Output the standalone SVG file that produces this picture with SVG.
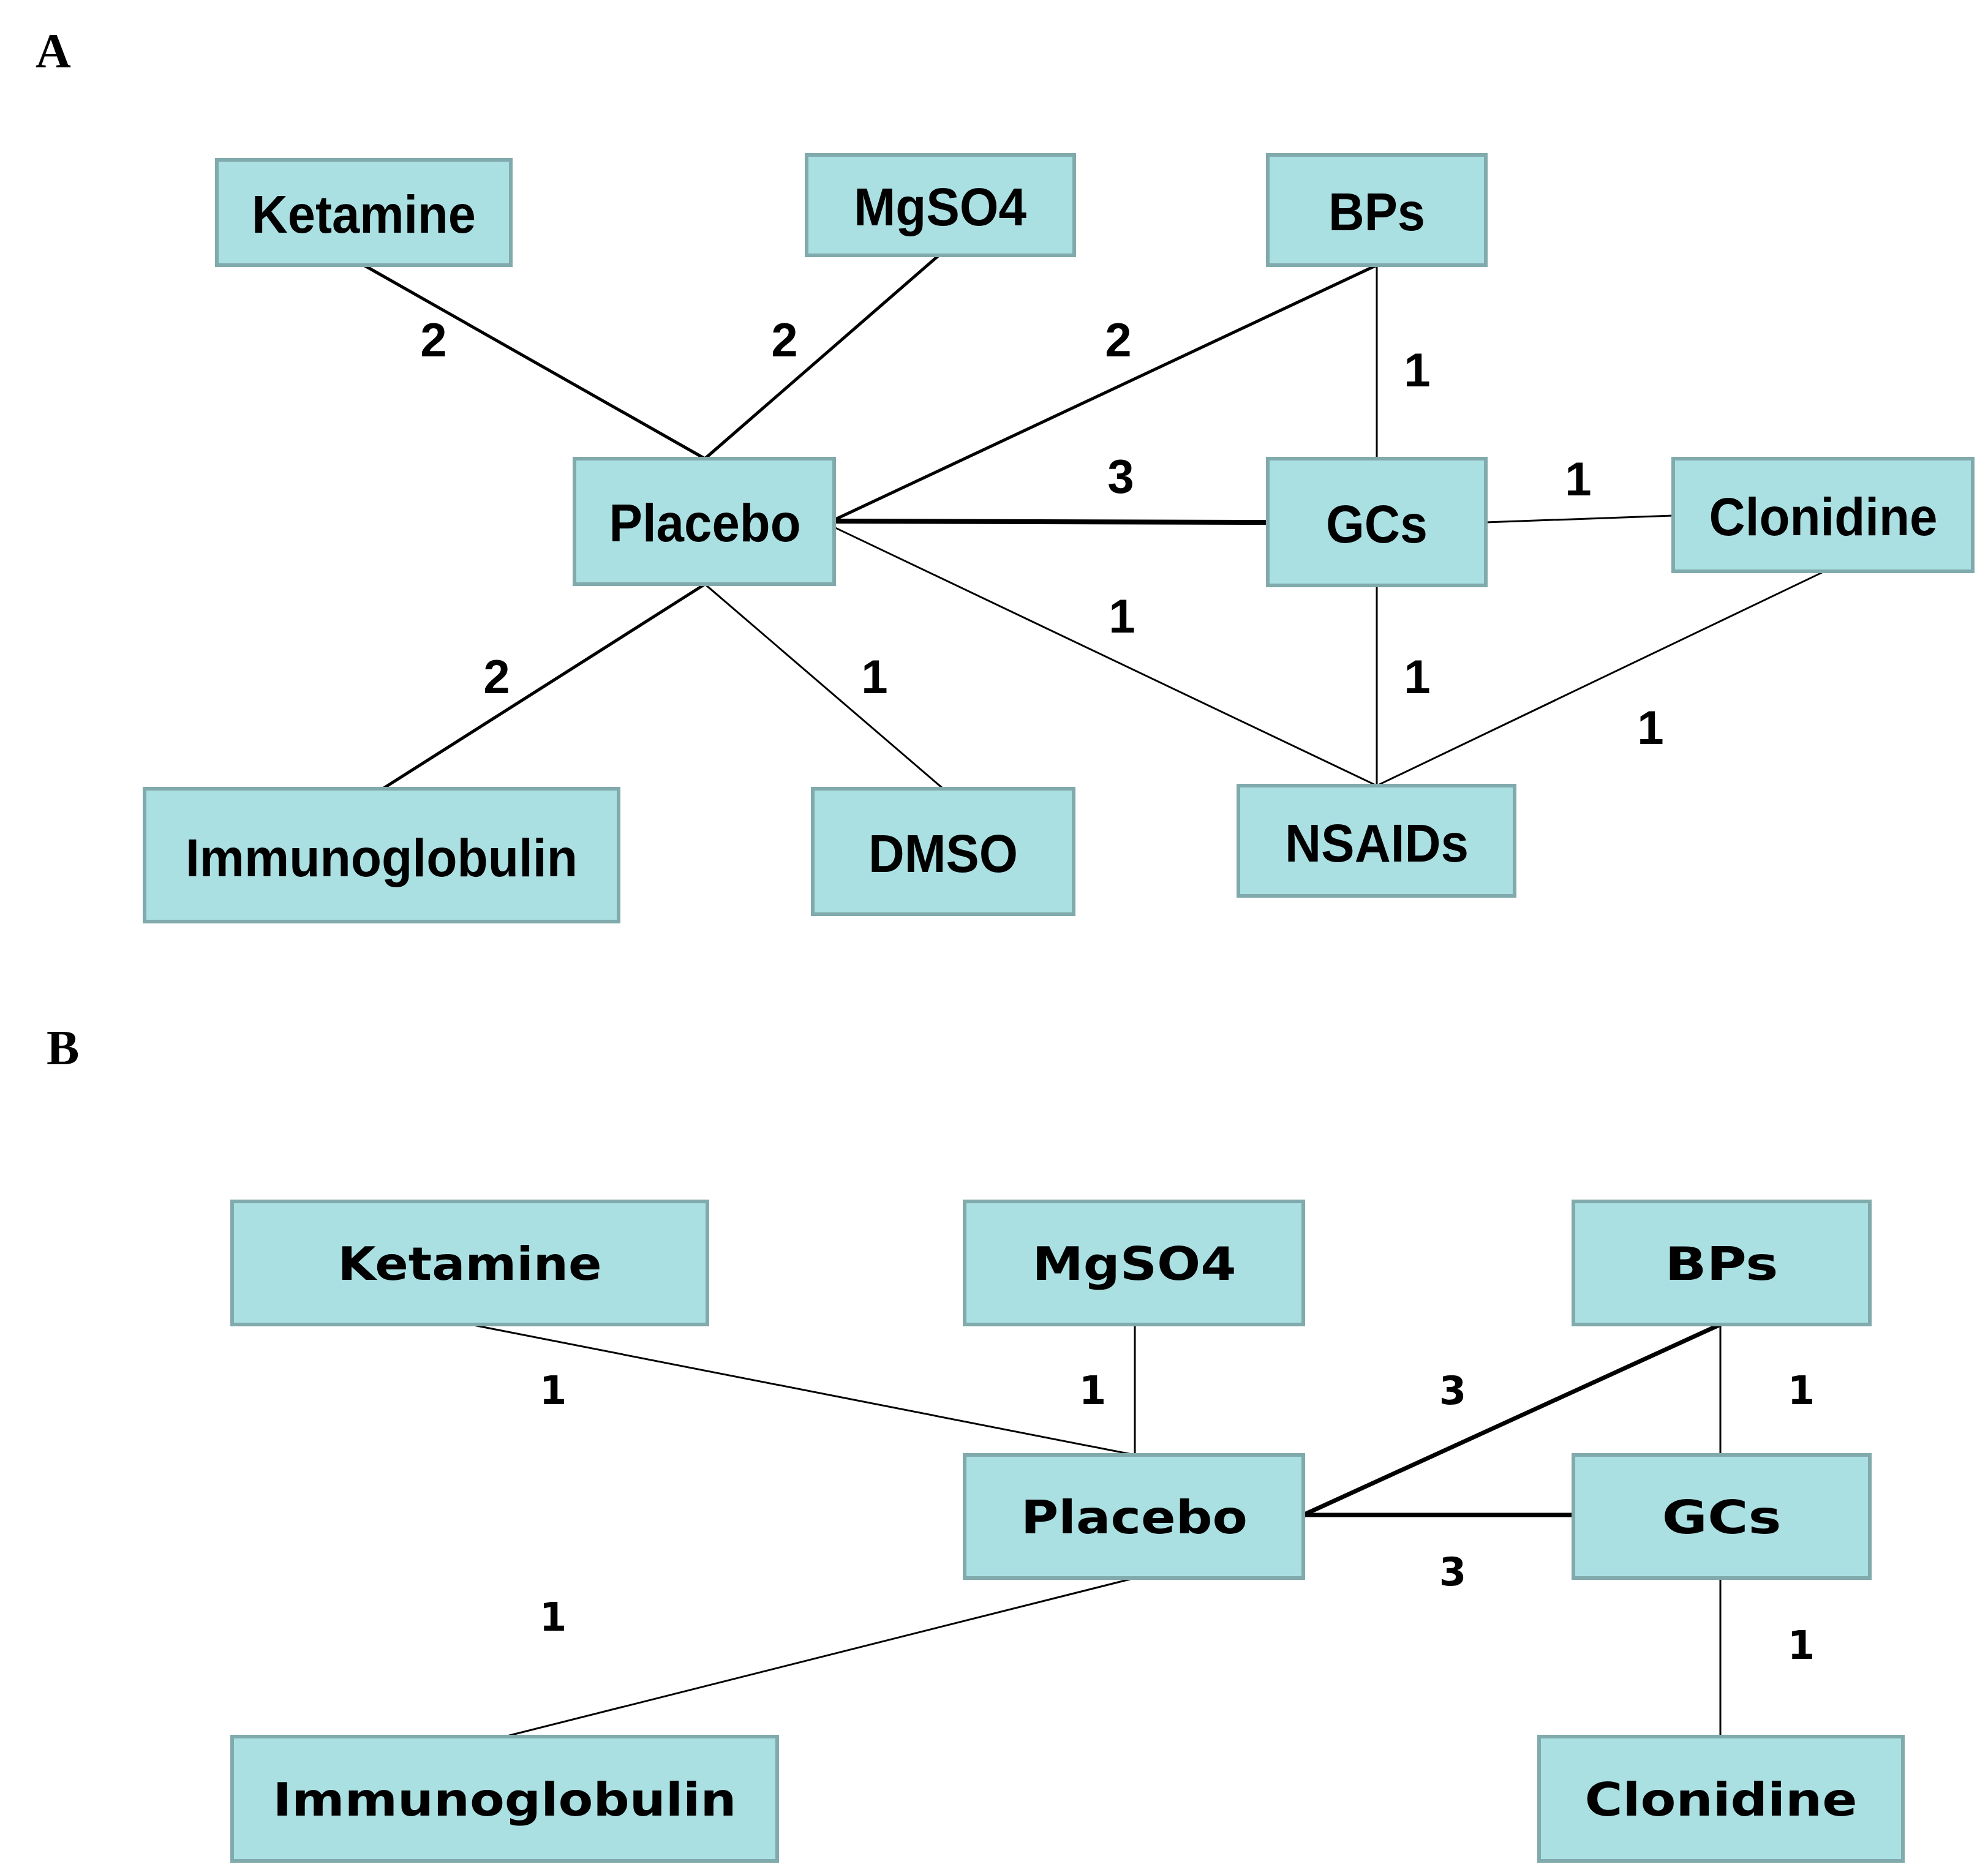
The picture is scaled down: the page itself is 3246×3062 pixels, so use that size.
<svg xmlns="http://www.w3.org/2000/svg" width="3246" height="3062" viewBox="0 0 3246 3062">
<style>
rect{fill:#ABE0E3;stroke:#80AAAC;stroke-width:6}
.a{font-family:"Liberation Sans",Arial,sans-serif;font-weight:bold;font-size:88px;text-anchor:middle;dominant-baseline:central}
.b{font-family:"DejaVu Sans",sans-serif;font-weight:bold;font-size:74px;text-anchor:middle;dominant-baseline:central}
.na{font-family:"Liberation Sans",Arial,sans-serif;font-weight:bold;font-size:78px;text-anchor:middle;dominant-baseline:central}
.nb{font-family:"DejaVu Sans",sans-serif;font-weight:bold;font-size:64px;text-anchor:middle;dominant-baseline:central}
.p{font-family:"Liberation Serif",serif;font-weight:bold;font-size:80px}
line{stroke:#000;stroke-linecap:round}
</style>
<rect x="0" y="0" width="3246" height="3062" style="fill:#fff;stroke:none"/>
<text class="p" x="58" y="110">A</text>
<text class="p" x="76" y="1738">B</text>
<g id="connectors">
<line x1="594" y1="433" x2="1151" y2="749" stroke-width="5"/>
<line x1="1534" y1="416" x2="1151" y2="749" stroke-width="5"/>
<line x1="1362" y1="849" x2="2248" y2="433" stroke-width="5"/>
<line x1="1362" y1="851" x2="2070" y2="853" stroke-width="8"/>
<line x1="2248" y1="433" x2="2248" y2="749" stroke-width="3"/>
<line x1="2426" y1="853" x2="2732" y2="842" stroke-width="3"/>
<line x1="1362" y1="861" x2="2248" y2="1283" stroke-width="3"/>
<line x1="2248" y1="956" x2="2248" y2="1283" stroke-width="3"/>
<line x1="2977" y1="934" x2="2248" y2="1283" stroke-width="3"/>
<line x1="1151" y1="954" x2="625" y2="1288" stroke-width="5"/>
<line x1="1151" y1="954" x2="1540" y2="1288" stroke-width="3"/>
<line x1="768" y1="2163" x2="1853" y2="2376" stroke-width="3"/>
<line x1="1853" y1="2163" x2="1853" y2="2376" stroke-width="3"/>
<line x1="2809" y1="2163" x2="2128" y2="2474" stroke-width="7"/>
<line x1="2128" y1="2474" x2="2569" y2="2474" stroke-width="7"/>
<line x1="2809" y1="2163" x2="2809" y2="2376" stroke-width="3"/>
<line x1="2809" y1="2577" x2="2809" y2="2836" stroke-width="3"/>
<line x1="1853" y1="2577" x2="824" y2="2836" stroke-width="3"/>
<text class="na" x="708" y="555">2</text>
<text class="na" x="1281" y="555">2</text>
<text class="na" x="1826" y="555">2</text>
<text class="na" x="2314" y="604">1</text>
<text class="na" x="1830" y="778">3</text>
<text class="na" x="2577" y="782">1</text>
<text class="na" x="1832" y="1006">1</text>
<text class="na" x="2314" y="1105">1</text>
<text class="na" x="2695" y="1188">1</text>
<text class="na" x="811" y="1105">2</text>
<text class="na" x="1428" y="1105">1</text>
<text class="nb" x="903" y="2271">1</text>
<text class="nb" x="1784" y="2271">1</text>
<text class="nb" x="2372" y="2271">3</text>
<text class="nb" x="2941" y="2271">1</text>
<text class="nb" x="2372" y="2567">3</text>
<text class="nb" x="903" y="2641">1</text>
<text class="nb" x="2941" y="2687">1</text>
</g>
<g id="a-ketamine"><rect x="354" y="261" width="480" height="172"/><text class="a" x="594" y="349" textLength="366" lengthAdjust="spacingAndGlyphs">Ketamine</text></g>
<g id="a-mgso4"><rect x="1317" y="253" width="437" height="164"/><text class="a" x="1535" y="337" textLength="282" lengthAdjust="spacingAndGlyphs">MgSO4</text></g>
<g id="a-bps"><rect x="2070" y="253" width="356" height="180"/><text class="a" x="2248" y="345" textLength="158" lengthAdjust="spacingAndGlyphs">BPs</text></g>
<g id="a-placebo"><rect x="938" y="749" width="424" height="205"/><text class="a" x="1151" y="853" textLength="313" lengthAdjust="spacingAndGlyphs">Placebo</text></g>
<g id="a-gcs"><rect x="2070" y="749" width="356" height="207"/><text class="a" x="2248" y="855" textLength="166" lengthAdjust="spacingAndGlyphs">GCs</text></g>
<g id="a-clonidine"><rect x="2732" y="749" width="489" height="184"/><text class="a" x="2977" y="843" textLength="373" lengthAdjust="spacingAndGlyphs">Clonidine</text></g>
<g id="a-immunoglobulin"><rect x="236" y="1288" width="774" height="217"/><text class="a" x="623" y="1400" textLength="640" lengthAdjust="spacingAndGlyphs">Immunoglobulin</text></g>
<g id="a-dmso"><rect x="1327" y="1288" width="426" height="205"/><text class="a" x="1540" y="1393" textLength="244" lengthAdjust="spacingAndGlyphs">DMSO</text></g>
<g id="a-nsaids"><rect x="2022" y="1283" width="451" height="180"/><text class="a" x="2248" y="1376" textLength="300" lengthAdjust="spacingAndGlyphs">NSAIDs</text></g>
<g id="b-ketamine"><rect x="379" y="1962" width="776" height="201"/><text class="b" x="767" y="2064" textLength="431" lengthAdjust="spacingAndGlyphs">Ketamine</text></g>
<g id="b-mgso4"><rect x="1575" y="1962" width="553" height="201"/><text class="b" x="1852" y="2064" textLength="333" lengthAdjust="spacingAndGlyphs">MgSO4</text></g>
<g id="b-bps"><rect x="2569" y="1962" width="484" height="201"/><text class="b" x="2811" y="2064" textLength="185" lengthAdjust="spacingAndGlyphs">BPs</text></g>
<g id="b-placebo"><rect x="1575" y="2376" width="553" height="201"/><text class="b" x="1852" y="2478" textLength="370" lengthAdjust="spacingAndGlyphs">Placebo</text></g>
<g id="b-gcs"><rect x="2569" y="2376" width="484" height="201"/><text class="b" x="2811" y="2478" textLength="195" lengthAdjust="spacingAndGlyphs">GCs</text></g>
<g id="b-immunoglobulin"><rect x="379" y="2836" width="890" height="203"/><text class="b" x="824" y="2939" textLength="757" lengthAdjust="spacingAndGlyphs">Immunoglobulin</text></g>
<g id="b-clonidine"><rect x="2513" y="2836" width="594" height="203"/><text class="b" x="2810" y="2939" textLength="445" lengthAdjust="spacingAndGlyphs">Clonidine</text></g>
</svg>
